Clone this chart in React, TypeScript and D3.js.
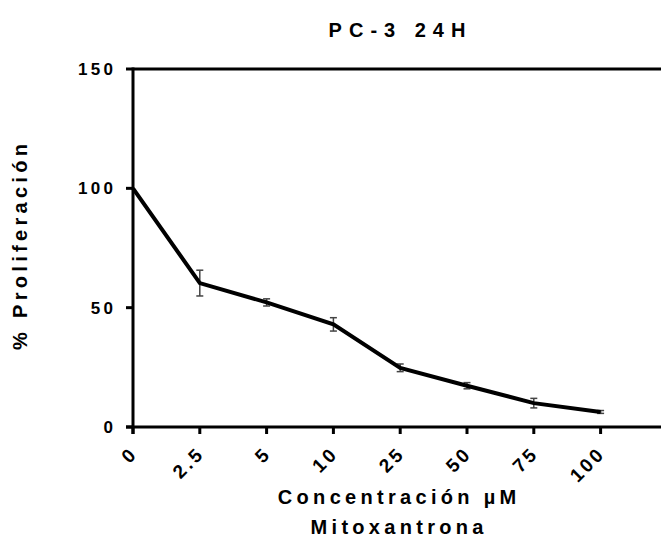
import React from "react";
import * as d3 from "d3";

// Mitoxantrone dose response, PC-3 cells at 24 h
const concentrations = ["0", "2.5", "5", "10", "25", "50", "75", "100"];
const proliferation = [100, 60.3, 52.2, 43.0, 24.8, 17.3, 10.0, 6.3];
const sem = [0, 5.4, 1.5, 2.8, 1.6, 1.3, 2.0, 0.6];
const yTicks = [0, 50, 100, 150];

const W = 661;
const H = 554;
const left = 133;
const top = 69;
const bottom = 427;
const step = 66.8;
const right = 661;

const FONT = "'Liberation Sans', Arial, Helvetica, sans-serif";

export default function App() {
  const x = d3
    .scalePoint<string>()
    .domain(concentrations)
    .range([left, left + step * (concentrations.length - 1)]);
  const y = d3.scaleLinear().domain([0, 150]).range([bottom, top]);

  const rows = concentrations.map((c, i) => ({
    c,
    v: proliferation[i],
    e: sem[i],
  }));

  const line = d3
    .line<{ c: string; v: number }>()
    .x((d) => x(d.c) as number)
    .y((d) => y(d.v));

  const yTickSpacing = 3.3;
  const xTickSpacing = 3;
  const labelSpacing = 4.3;
  const titleSpacing = 7;

  return (
    <svg
      width={W}
      height={H}
      style={{ position: "absolute", left: 0, top: 0, background: "#fff" }}
      fontFamily={FONT}
      fontWeight="bold"
    >
      <rect width={W} height={H} fill="#fff" />

      {/* title */}
      <text
        x={397 + titleSpacing / 2}
        y={37}
        textAnchor="middle"
        fontSize={20}
        letterSpacing={titleSpacing}
        fill="#000"
      >
        PC-3 24H
      </text>

      {/* frame top */}
      <line x1={left} x2={right} y1={y(150)} y2={y(150)} stroke="#000" strokeWidth={3} />

      {/* y axis */}
      <line x1={left} x2={left} y1={y(150) - 1.5} y2={bottom + 7} stroke="#000" strokeWidth={3} />
      {yTicks.map((t) => (
        <g key={t}>
          <line x1={left - 7} x2={left} y1={y(t)} y2={y(t)} stroke="#000" strokeWidth={3} />
          <text
            x={113 + yTickSpacing}
            y={y(t)}
            dy="0.35em"
            textAnchor="end"
            fontSize={17}
            letterSpacing={yTickSpacing}
            fill="#000"
          >
            {t}
          </text>
        </g>
      ))}

      {/* x axis */}
      <line x1={left - 7} x2={right} y1={bottom} y2={bottom} stroke="#000" strokeWidth={3} />
      {concentrations.map((c) => {
        const tx = x(c) as number;
        return (
          <g key={c}>
            <line x1={tx} x2={tx} y1={bottom} y2={bottom + 7} stroke="#000" strokeWidth={3} />
            <text
              transform={`translate(${tx - 1},${bottom + 25}) rotate(-45)`}
              x={xTickSpacing}
              dy="0.35em"
              textAnchor="end"
              fontSize={19}
              letterSpacing={xTickSpacing}
              fill="#000"
            >
              {c}
            </text>
          </g>
        );
      })}

      {/* error bars */}
      {rows
        .filter((d) => d.e > 0)
        .map((d) => {
          const cx = x(d.c) as number;
          const y1 = y(d.v + d.e);
          const y2 = y(d.v - d.e);
          return (
            <g key={d.c} stroke="#444" strokeWidth={1.5}>
              <line x1={cx} x2={cx} y1={y1} y2={y2} />
              <line x1={cx - 3.5} x2={cx + 3.5} y1={y1} y2={y1} />
              <line x1={cx - 3.5} x2={cx + 3.5} y1={y2} y2={y2} />
            </g>
          );
        })}

      {/* mean curve */}
      <path
        d={line(rows) || ""}
        fill="none"
        stroke="#000"
        strokeWidth={4}
        strokeLinejoin="miter"
      />

      {/* axis titles */}
      <text
        x={397 + labelSpacing / 2}
        y={504}
        textAnchor="middle"
        fontSize={20}
        letterSpacing={labelSpacing}
        fill="#000"
      >
        Concentración µM
      </text>
      <text
        x={397 + labelSpacing / 2}
        y={534}
        textAnchor="middle"
        fontSize={20}
        letterSpacing={labelSpacing}
        fill="#000"
      >
        Mitoxantrona
      </text>
      <text
        transform={`translate(27,${(top + bottom) / 2 - 1}) rotate(-90)`}
        x={labelSpacing / 2}
        textAnchor="middle"
        fontSize={20}
        letterSpacing={labelSpacing}
        fill="#000"
      >
        % Proliferación
      </text>
    </svg>
  );
}
